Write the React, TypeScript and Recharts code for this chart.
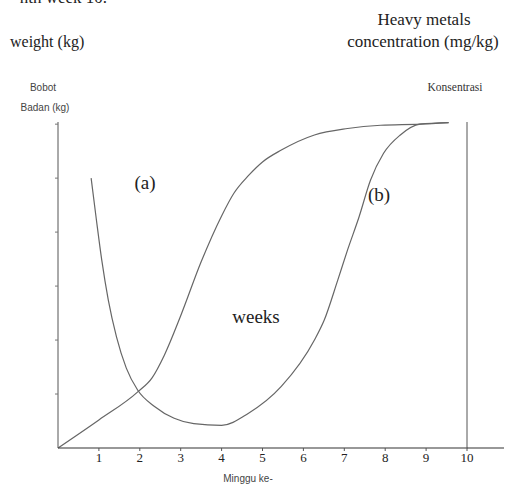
import React from 'react';
import { LineChart, Line, XAxis, YAxis, ReferenceDot } from 'recharts';

const xTicks = [1, 2, 3, 4, 5, 6, 7, 8, 9, 10];
const yTicks = [1, 2, 3, 4, 5, 6];

// S-shaped curve starting at origin
const sWeeks = [0, 1.0, 1.95, 2.3, 2.6, 3.0, 3.5, 4.0, 4.3, 4.66, 5.0, 5.46, 6.27, 7.08, 7.89, 8.85, 9.55];
const sValues = [0, 0.52, 1.04, 1.3, 1.72, 2.45, 3.45, 4.3, 4.72, 5.05, 5.3, 5.52, 5.8, 5.92, 5.98, 6.0, 6.03];

// U-shaped then rising curve
const uWeeks = [0.81, 0.94, 1.07, 1.23, 1.43, 1.67, 1.95, 2.36, 2.84, 3.32, 4.0, 4.65, 5.46, 6.27, 6.51, 6.84, 7.08, 7.36, 7.64, 7.96, 8.37, 8.85, 9.55];
const uValues = [5.0, 4.22, 3.48, 2.74, 2.06, 1.48, 1.07, 0.77, 0.55, 0.45, 0.42, 0.64, 1.14, 2.0, 2.37, 3.11, 3.67, 4.28, 4.96, 5.46, 5.8, 6.0, 6.03];

const sData = sWeeks.map((w, i) => ({ w, v: sValues[i] }));
const uData = uWeeks.map((w, i) => ({ w, v: uValues[i] }));

const serif = '"Liberation Serif", "Times New Roman", serif';
const sans = '"Liberation Sans", Arial, sans-serif';

const EmptyTick = () => <g />;

const AxisExtension = (props: any) => {
  const { cx, cy } = props;
  if (cx == null || cy == null) return <g />;
  return <line x1={cx} y1={cy} x2={504} y2={cy} stroke="#333" strokeWidth={1.2} />;
};

export default function App() {
  return (
    <div style={{ position: 'absolute', left: 0, top: 0, width: 505, height: 485, background: '#fff' }}>
      <LineChart width={505} height={485} margin={{ top: 122, right: 38, bottom: 0, left: 48 }}>
        <XAxis
          dataKey="w"
          type="number"
          domain={[0, 10]}
          ticks={xTicks}
          height={37}
          tickSize={3}
          stroke="#333"
          axisLine={{ stroke: '#333', strokeWidth: 1.2 }}
          tickLine={{ stroke: '#555' }}
          tick={{ fontFamily: serif, fontSize: 13, fill: '#222' }}
        />
        <YAxis
          yAxisId="left"
          type="number"
          domain={[0, 6.04]}
          ticks={yTicks}
          width={10}
          tickSize={3}
          tick={EmptyTick}
          stroke="#555"
          axisLine={{ stroke: '#555', strokeWidth: 1 }}
          tickLine={{ stroke: '#777' }}
        />
        <YAxis
          yAxisId="right"
          orientation="right"
          mirror
          type="number"
          domain={[0, 6.04]}
          ticks={yTicks}
          width={10}
          tickSize={3}
          tick={EmptyTick}
          stroke="#555"
          axisLine={{ stroke: '#555', strokeWidth: 1 }}
          tickLine={{ stroke: '#777' }}
        />
        <ReferenceDot
          yAxisId="left"
          x={10}
          y={0}
          ifOverflow="visible"
          shape={AxisExtension}
        />
        <Line
          yAxisId="left"
          data={sData}
          dataKey="v"
          type="monotone"
          stroke="#666"
          strokeWidth={1.2}
          dot={false}
          isAnimationActive={false}
        />
        <Line
          yAxisId="left"
          data={uData}
          dataKey="v"
          type="monotone"
          stroke="#666"
          strokeWidth={1.2}
          dot={false}
          isAnimationActive={false}
        />
      </LineChart>
      <svg width={505} height={485} style={{ position: 'absolute', left: 0, top: 0, pointerEvents: 'none' }}>
        <text x={107} y={3} textAnchor="end" fontFamily={serif} fontSize={17} fill="#222">nth week 10.</text>
        <text x={10} y={47} fontFamily={serif} fontSize={16} fill="#222">weight (kg)</text>
        <text x={424} y={25} textAnchor="middle" fontFamily={serif} fontSize={17} fill="#222">Heavy metals</text>
        <text x={423} y={47} textAnchor="middle" fontFamily={serif} fontSize={17} fill="#222">concentration (mg/kg)</text>
        <text x={43} y={91} textAnchor="middle" fontFamily={sans} fontSize={10} fill="#444">Bobot</text>
        <text x={45} y={111} textAnchor="middle" fontFamily={sans} fontSize={10} fill="#444">Badan (kg)</text>
        <text x={455} y={91} textAnchor="middle" fontFamily={serif} fontSize={11.5} fill="#333">Konsentrasi</text>
        <text x={145} y={189} textAnchor="middle" fontFamily={serif} fontSize={19} fill="#222">(a)</text>
        <text x={379} y={201} textAnchor="middle" fontFamily={serif} fontSize={19} fill="#222">(b)</text>
        <text x={256} y={323} textAnchor="middle" fontFamily={serif} fontSize={19} fill="#222">weeks</text>
        <text x={248} y={482} textAnchor="middle" fontFamily={sans} fontSize={10} fill="#444">Minggu ke-</text>
      </svg>
    </div>
  );
}
